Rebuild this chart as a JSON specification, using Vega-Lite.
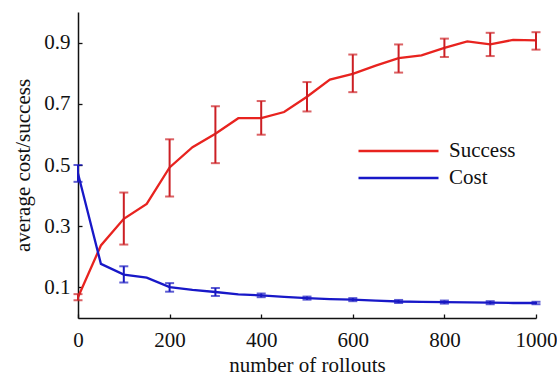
{
  "$schema": "https://vega.github.io/schema/vega-lite/v6.json",
  "width": 458,
  "height": 306,
  "autosize": {"type": "none"},
  "padding": {"left": 78, "top": 12, "right": 21, "bottom": 57},
  "background": "white",
  "config": {
    "view": {"stroke": null},
    "font": "Liberation Serif",
    "axis": {
      "labelFont": "Liberation Serif",
      "titleFont": "Liberation Serif",
      "labelFontSize": 21,
      "titleFontSize": 21,
      "titleFontWeight": "normal",
      "labelColor": "#111",
      "titleColor": "#111",
      "domainColor": "#111",
      "domainWidth": 1.5,
      "tickColor": "#111",
      "tickWidth": 1.3,
      "tickSize": -4,
      "grid": false
    },
    "legend": {
      "labelFont": "Liberation Serif",
      "labelFontSize": 21,
      "labelColor": "#111"
    }
  },
  "datasets": {
    "lines": [
      {"rollouts": 0, "series": "Success", "value": 0.068},
      {"rollouts": 50, "series": "Success", "value": 0.237},
      {"rollouts": 100, "series": "Success", "value": 0.324},
      {"rollouts": 150, "series": "Success", "value": 0.373},
      {"rollouts": 200, "series": "Success", "value": 0.492},
      {"rollouts": 250, "series": "Success", "value": 0.558},
      {"rollouts": 300, "series": "Success", "value": 0.602},
      {"rollouts": 350, "series": "Success", "value": 0.653},
      {"rollouts": 400, "series": "Success", "value": 0.653},
      {"rollouts": 450, "series": "Success", "value": 0.673},
      {"rollouts": 500, "series": "Success", "value": 0.723},
      {"rollouts": 550, "series": "Success", "value": 0.779},
      {"rollouts": 600, "series": "Success", "value": 0.798},
      {"rollouts": 650, "series": "Success", "value": 0.825},
      {"rollouts": 700, "series": "Success", "value": 0.849},
      {"rollouts": 750, "series": "Success", "value": 0.858},
      {"rollouts": 800, "series": "Success", "value": 0.883},
      {"rollouts": 850, "series": "Success", "value": 0.904},
      {"rollouts": 900, "series": "Success", "value": 0.894},
      {"rollouts": 950, "series": "Success", "value": 0.909},
      {"rollouts": 1000, "series": "Success", "value": 0.907},
      {"rollouts": 0, "series": "Cost", "value": 0.472},
      {"rollouts": 50, "series": "Cost", "value": 0.177},
      {"rollouts": 100, "series": "Cost", "value": 0.142},
      {"rollouts": 150, "series": "Cost", "value": 0.132},
      {"rollouts": 200, "series": "Cost", "value": 0.101},
      {"rollouts": 250, "series": "Cost", "value": 0.092},
      {"rollouts": 300, "series": "Cost", "value": 0.085},
      {"rollouts": 350, "series": "Cost", "value": 0.077},
      {"rollouts": 400, "series": "Cost", "value": 0.074},
      {"rollouts": 450, "series": "Cost", "value": 0.069},
      {"rollouts": 500, "series": "Cost", "value": 0.065},
      {"rollouts": 550, "series": "Cost", "value": 0.062},
      {"rollouts": 600, "series": "Cost", "value": 0.060},
      {"rollouts": 650, "series": "Cost", "value": 0.057},
      {"rollouts": 700, "series": "Cost", "value": 0.054},
      {"rollouts": 750, "series": "Cost", "value": 0.053},
      {"rollouts": 800, "series": "Cost", "value": 0.052},
      {"rollouts": 850, "series": "Cost", "value": 0.051},
      {"rollouts": 900, "series": "Cost", "value": 0.050},
      {"rollouts": 950, "series": "Cost", "value": 0.049},
      {"rollouts": 1000, "series": "Cost", "value": 0.049}
    ],
    "errs": [
      {"rollouts": 0, "series": "Success", "lo": 0.058, "hi": 0.078},
      {"rollouts": 100, "series": "Success", "lo": 0.24, "hi": 0.41},
      {"rollouts": 200, "series": "Success", "lo": 0.397, "hi": 0.584},
      {"rollouts": 300, "series": "Success", "lo": 0.506, "hi": 0.692},
      {"rollouts": 400, "series": "Success", "lo": 0.599, "hi": 0.709},
      {"rollouts": 500, "series": "Success", "lo": 0.675, "hi": 0.771},
      {"rollouts": 600, "series": "Success", "lo": 0.738, "hi": 0.861},
      {"rollouts": 700, "series": "Success", "lo": 0.802, "hi": 0.894},
      {"rollouts": 800, "series": "Success", "lo": 0.853, "hi": 0.913},
      {"rollouts": 900, "series": "Success", "lo": 0.856, "hi": 0.932},
      {"rollouts": 1000, "series": "Success", "lo": 0.877, "hi": 0.934},
      {"rollouts": 0, "series": "Cost", "lo": 0.445, "hi": 0.5},
      {"rollouts": 100, "series": "Cost", "lo": 0.116, "hi": 0.169},
      {"rollouts": 200, "series": "Cost", "lo": 0.086, "hi": 0.114},
      {"rollouts": 300, "series": "Cost", "lo": 0.072, "hi": 0.098},
      {"rollouts": 400, "series": "Cost", "lo": 0.068, "hi": 0.080},
      {"rollouts": 500, "series": "Cost", "lo": 0.060, "hi": 0.070},
      {"rollouts": 600, "series": "Cost", "lo": 0.055, "hi": 0.065},
      {"rollouts": 700, "series": "Cost", "lo": 0.049, "hi": 0.059},
      {"rollouts": 800, "series": "Cost", "lo": 0.047, "hi": 0.057},
      {"rollouts": 900, "series": "Cost", "lo": 0.045, "hi": 0.055},
      {"rollouts": 1000, "series": "Cost", "lo": 0.045, "hi": 0.053}
    ]
  },
  "layer": [
    {
      "data": {"name": "lines"},
      "mark": {"type": "line", "strokeWidth": 2.3, "clip": false},
      "encoding": {
        "x": {
          "field": "rollouts", "type": "quantitative",
          "scale": {"domain": [0, 1000], "nice": false},
          "axis": {"values": [0, 200, 400, 600, 800, 1000], "format": "d", "title": "number of rollouts", "labelPadding": 15, "titleBaseline": "alphabetic", "titleY": 53, "labelFlush": false}
        },
        "y": {
          "field": "value", "type": "quantitative",
          "scale": {"domain": [0, 1], "nice": false},
          "axis": {"values": [0.1, 0.3, 0.5, 0.7, 0.9], "format": ".1f", "title": "average cost/success", "labelPadding": 12, "titleBaseline": "alphabetic", "titleX": -49}
        },
        "color": {
          "field": "series", "type": "nominal",
          "scale": {"domain": ["Success", "Cost"], "range": ["#e8231f", "#1818c8"]},
          "legend": {
            "title": null,
            "orient": "none",
            "legendX": 279,
            "legendY": 125.5,
            "symbolType": "stroke",
            "symbolSize": 6400,
            "symbolStrokeWidth": 2.3,
            "clipHeight": 27,
            "labelOffset": 9,
            "rowPadding": 0,
            "padding": 0
          }
        }
      }
    },
    {
      "data": {"name": "errs"},
      "transform": [{"filter": "datum.series === 'Success'"}],
      "mark": {"type": "errorbar", "color": "#cc1f24", "ticks": {"size": 9, "thickness": 2}, "rule": {"strokeWidth": 2}},
      "encoding": {
        "x": {"field": "rollouts", "type": "quantitative", "title": "number of rollouts"},
        "y": {"field": "lo", "type": "quantitative", "title": "average cost/success"},
        "y2": {"field": "hi"}
      }
    },
    {
      "data": {"name": "errs"},
      "transform": [{"filter": "datum.series === 'Cost'"}],
      "mark": {"type": "errorbar", "color": "#1818c0", "ticks": {"size": 9, "thickness": 2}, "rule": {"strokeWidth": 2}},
      "encoding": {
        "x": {"field": "rollouts", "type": "quantitative", "title": "number of rollouts"},
        "y": {"field": "lo", "type": "quantitative", "title": "average cost/success"},
        "y2": {"field": "hi"}
      }
    }
  ]
}
